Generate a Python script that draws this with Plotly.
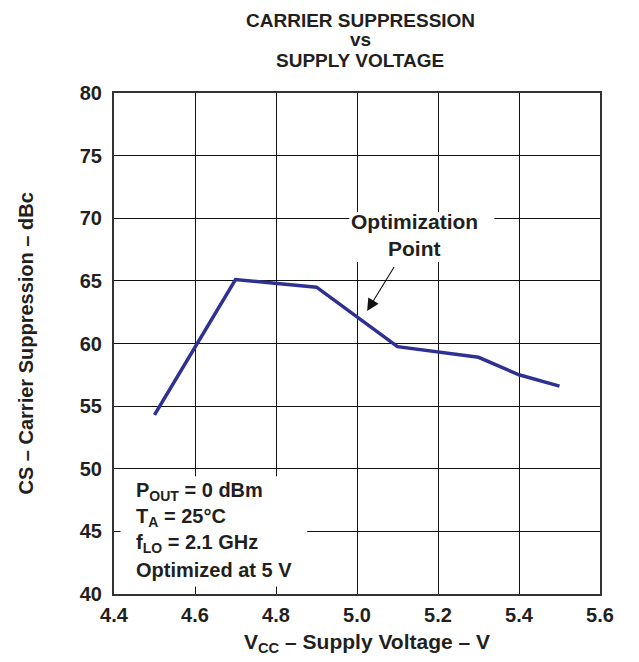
import plotly.graph_objects as go

# Data
vcc = [4.5, 4.7, 4.9, 5.1, 5.3, 5.4, 5.5]
cs_dbc = [54.3, 65.1, 64.5, 59.75, 58.9, 57.5, 56.6]
x_ticks = [4.4, 4.6, 4.8, 5.0, 5.2, 5.4, 5.6]
x_tick_labels = ["4.4", "4.6", "4.8", "5.0", "5.2", "5.4", "5.6"]
y_ticks = [40, 45, 50, 55, 60, 65, 70, 75, 80]
title_lines = ["CARRIER SUPPRESSION", "vs", "SUPPLY VOLTAGE"]

FONT = "Liberation Sans, Arial, sans-serif"
BLUE = "#2E3192"
TXT = "#231F20"

fig = go.Figure()
fig.add_trace(go.Scatter(x=vcc, y=cs_dbc, mode="lines",
                         line=dict(color=BLUE, width=3.5), showlegend=False,
                         hoverinfo="skip"))

# page has an 8px body margin; compensate
OFF = 8
L, R, T, B = 113.5 - OFF, 39, 93 - OFF, 68
fig.update_layout(
    width=639 - OFF, height=662 - OFF,
    margin=dict(l=L, r=R, t=T, b=B, pad=0),
    paper_bgcolor="white", plot_bgcolor="white",
    font=dict(family=FONT, color=TXT),
    xaxis=dict(range=[4.4, 5.6], tickvals=x_ticks, ticktext=x_tick_labels,
               showgrid=True, gridcolor="#111", gridwidth=1,
               showline=True, linecolor="#333", linewidth=2, mirror=True,
               zeroline=False, ticks="outside", ticklen=2, tickcolor="rgba(0,0,0,0)",
               tickfont=dict(size=20, family=FONT, color=TXT, weight="bold")),
    yaxis=dict(range=[40, 80], tickvals=y_ticks,
               showgrid=True, gridcolor="#111", gridwidth=1,
               showline=True, linecolor="#333", linewidth=2, mirror=True,
               zeroline=False, ticks="outside", ticklen=6, tickcolor="rgba(0,0,0,0)",
               tickfont=dict(size=20, family=FONT, color=TXT, weight="bold")),
)

# white boxes masking the grid behind annotation text
fig.add_shape(type="rect", xref="x", yref="y", x0=4.416, x1=4.877, y0=40.6, y1=49.4,
              fillcolor="white", line=dict(width=0), layer="between")
fig.add_shape(type="rect", xref="x", yref="y", x0=4.981, x1=5.339, y0=66.5, y1=70.5,
              fillcolor="white", line=dict(width=0), layer="between")

# Titles (one annotation per line for tight spacing)
for t, ys in zip(title_lines, [73, 54, 33]):
    fig.add_annotation(xref="paper", yref="paper", x=0.5, xshift=3, y=1, yshift=ys,
                       showarrow=False, text="<b>%s</b>" % t, yanchor="middle",
                       font=dict(size=19, family=FONT, color=TXT))
fig.add_annotation(xref="paper", yref="paper", x=0.5, xshift=10, y=0, yshift=-49,
                   showarrow=False,
                   text="<b>V<sub>CC</sub> – Supply Voltage – V</b>",
                   font=dict(size=21, family=FONT, color=TXT), yanchor="middle")
fig.add_annotation(xref="paper", yref="paper", x=0, xshift=-89, y=0.5, showarrow=False,
                   text="<b>CS – Carrier Suppression – dBc</b>", textangle=-90,
                   font=dict(size=20, family=FONT, color=TXT), xanchor="center")

# Optimization point callout
fig.add_annotation(xref="x", yref="y", x=5.141, y=69.75, showarrow=False,
                   text="<b>Optimization</b>", yanchor="middle",
                   font=dict(size=21, family=FONT, color=TXT))
fig.add_annotation(xref="x", yref="y", x=5.141, y=67.6, showarrow=False,
                   text="<b>Point</b>", yanchor="middle",
                   font=dict(size=21, family=FONT, color=TXT))
fig.add_annotation(xref="x", yref="y", x=5.025, y=62.6, ax=5.099, ay=66.5,
                   axref="x", ayref="y", showarrow=True, arrowhead=2, arrowsize=2.2,
                   arrowwidth=1.1, arrowcolor="#111", text=" ")

# Conditions text
cond_lines = ["<b>P<sub>OUT</sub> = 0 dBm</b>", "<b>T<sub>A</sub> = 25°C</b>",
              "<b>f<sub>LO</sub> = 2.1 GHz</b>", "<b>Optimized at 5 V</b>"]
cond_y = [48.2, 46.1, 44.0, 41.9]
for t, yy in zip(cond_lines, cond_y):
    fig.add_annotation(xref="x", yref="y", x=4.45, y=yy, xanchor="left", showarrow=False,
                       text=t, font=dict(size=20, family=FONT, color=TXT))

fig.write_html("out.html")
